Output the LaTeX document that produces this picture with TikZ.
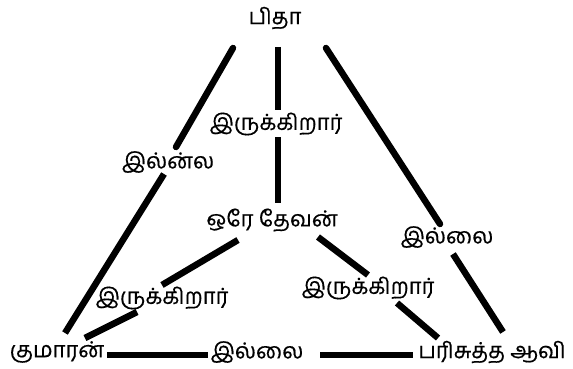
\documentclass[tikz,border=0pt]{standalone}
\usepackage{fontspec}
\newfontfamily\tamilfont[Script=Tamil,FakeBold=0.4]{Hind Madurai}
\begin{document}
\begin{tikzpicture}[x=1pt,y=-1pt,
  lbl/.style={font=\tamilfont\fontsize{22}{22}\selectfont, inner sep=0pt, text=black},
  bar/.style={line width=6.5pt, black}]
\useasboundingbox (0,0) rectangle (573,369);
% labels
\node[lbl] (pitha) at (275,18) {பிதா};
\node[lbl] (irukA) at (276,124) {இருக்கிறார்};
\node[lbl] (orey) at (272,220) {ஒரே தேவன்};
\node[lbl] (illaiL) at (168,162) {இல்ன்ல};
\node[lbl] (illaiR) at (447,237) {இல்லை};
\node[lbl] (irukL) at (162,298) {இருக்கிறார்};
\node[lbl] (irukR) at (368,288) {இருக்கிறார்};
\node[lbl] (kumaran) at (57,352) {குமாரன்};
\node[lbl] (illaiB) at (257,352) {இல்லை};
\node[lbl] (avi) at (492,352) {பரிசுத்த ஆவி};
% segment ends
\coordinate (v1) at (278,47);  \coordinate (v2) at (278,110);
\coordinate (v3) at (278,137); \coordinate (v4) at (278,203);
\coordinate (l1) at (233,48);  \coordinate (l2) at (176,147);
\coordinate (l3) at (164,174); \coordinate (l4) at (65,333);
\coordinate (r1) at (326,48);  \coordinate (r2) at (440,224);
\coordinate (r3) at (453,254); \coordinate (r4) at (503,332);
\coordinate (a1) at (238,240); \coordinate (a2) at (162,285);
\coordinate (a3) at (137,312); \coordinate (a4) at (85,338);
\coordinate (b1) at (318,237); \coordinate (b2) at (368,275);
\coordinate (b3) at (397,303); \coordinate (b4) at (438,338);
\coordinate (h1) at (107,355); \coordinate (h2) at (208,355);
\coordinate (h3) at (320,355); \coordinate (h4) at (413,355);
% connectors
\draw[bar] (v1) -- (v2);
\draw[bar] (v3) -- (v4);
\draw[bar,line cap=round] (l1) -- (l2);
\draw[bar] (l3) -- (l4);
\draw[bar,line cap=round] (r1) -- (r2);
\draw[bar] (r3) -- (r4);
\draw[bar] (a1) -- (a2);
\draw[bar] (a3) -- (a4);
\draw[bar] (b1) -- (b2);
\draw[bar] (b3) -- (b4);
\draw[bar] (h1) -- (h2);
\draw[bar] (h3) -- (h4);
\end{tikzpicture}
\end{document}
